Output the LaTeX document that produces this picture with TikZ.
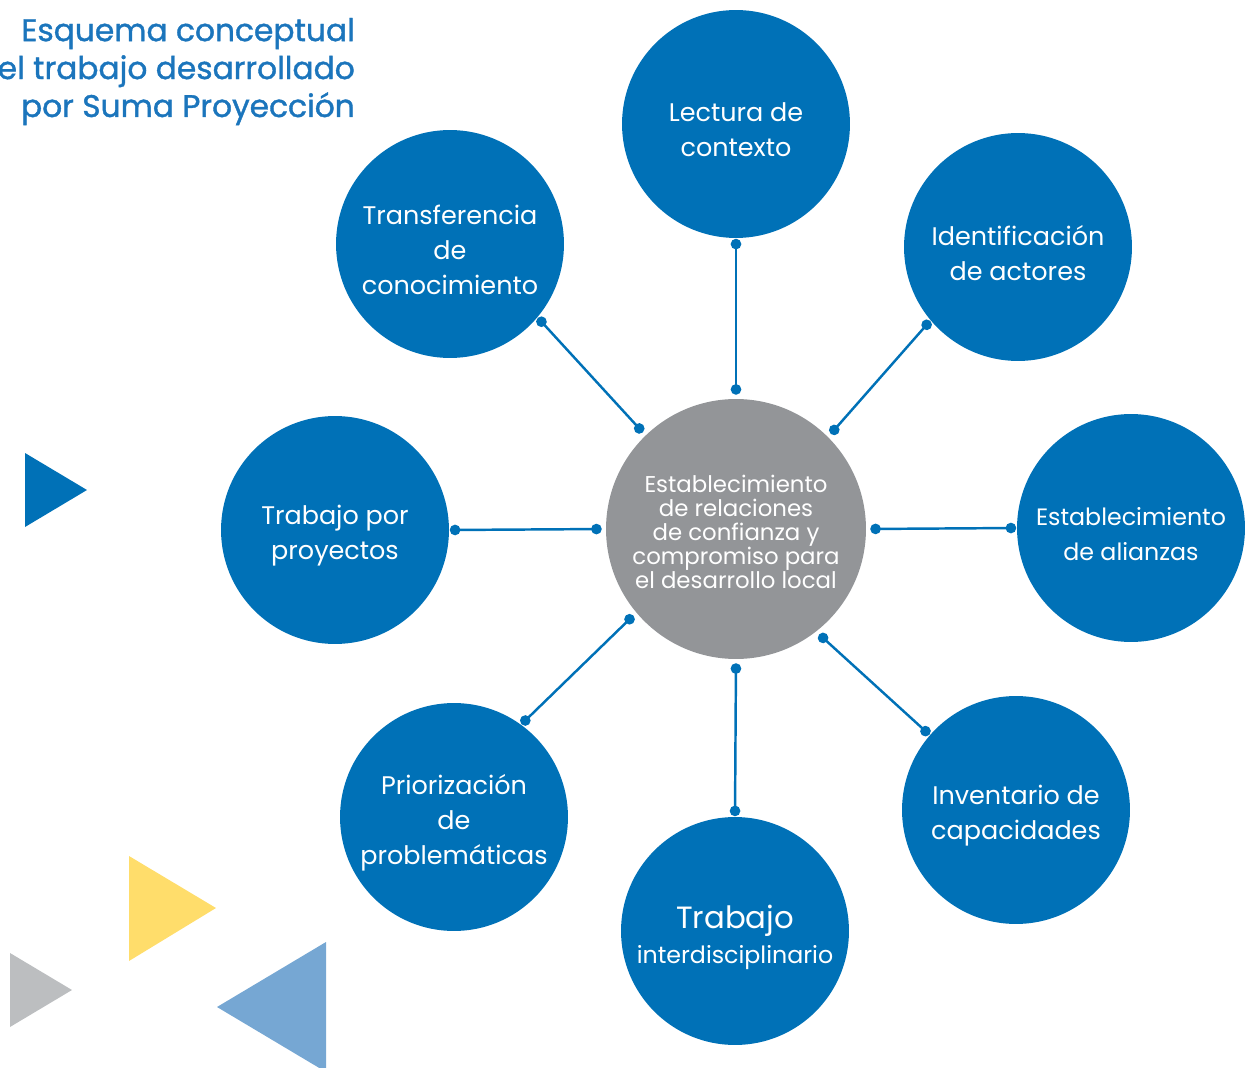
\documentclass[tikz,border=0pt]{standalone}
\usepackage{fontspec}
\setmainfont{Poppins}
\newfontfamily\titlefont[FakeBold=1.2]{Poppins}
\usetikzlibrary{arrows.meta}
\definecolor{cblue}{HTML}{0071B7}
\definecolor{cgray}{HTML}{939598}
\definecolor{tblue}{HTML}{1B75BC}
\definecolor{cyellow}{HTML}{FFDD6B}
\definecolor{clight}{HTML}{76A7D3}
\definecolor{cltgray}{HTML}{BCBEC0}

\begin{document}
\begin{tikzpicture}[x=0.02cm, y=-0.02cm,
    bubble/.style={circle, fill=cblue, minimum size=4.56cm, inner sep=0pt},
    hub/.style={circle, fill=cgray, minimum size=5.2cm, inner sep=0pt},
    lbl/.style={text=white, align=center, inner sep=0pt, yshift=-0.12cm, font=\fontsize{14.5}{20}\selectfont},
    hublbl/.style={lbl, yshift=0.06cm, font=\fontsize{13}{13.7}\selectfont},
    link/.style={cblue, line width=1.4pt, {Circle[length=0.21cm]}-{Circle[length=0.21cm]}, shorten <=0.08cm, shorten >=0.01cm}]
        \useasboundingbox (0, 0) rectangle (1245, 1068);

        \fill[cblue] (25, 453) -- (25, 527) -- (87, 490) -- cycle;
        \fill[cyellow] (129, 856) -- (129, 961) -- (216, 908) -- cycle;
        \fill[cltgray] (10, 953) -- (10, 1027) -- (72, 990) -- cycle;
        \fill[clight] (326, 942) -- (326, 1072) -- (217, 1007) -- cycle;

        \node[anchor=base east, align=right, text=tblue, font=\titlefont\fontsize{17.8}{21.6}\selectfont] (title) at (361, 117) {Esquema conceptual\\el trabajo desarrollado\\por Suma Proyección};

        \node[hub] (ctr) at (736, 529) {};
        \node[bubble] (lect) at (736, 124) {};
        \node[bubble] (ident) at (1018, 247) {};
        \node[bubble] (alian) at (1131, 528) {};
        \node[bubble] (inven) at (1016, 810) {};
        \node[bubble] (inter) at (735, 931) {};
        \node[bubble] (prior) at (454, 817) {};
        \node[bubble] (proy) at (335, 530) {};
        \node[bubble] (transf) at (450, 244) {};

        \node[hublbl] (ctr-t) at (ctr) {Establecimiento\\de relaciones\\de confianza y\\compromiso para\\el desarrollo local};
        \node[lbl] (lect-t) at (lect) {Lectura de\\contexto};
        \node[lbl] (ident-t) at (ident) {Identificación\\de actores};
        \node[lbl, font=\fontsize{13.5}{20}\selectfont] (alian-t) at (alian) {Establecimiento\\de alianzas};
        \node[lbl] (inven-t) at (inven) {Inventario de\\capacidades};
        \node[lbl] (inter-t) at (inter) {\fontsize{17.5}{19.4}\selectfont Trabajo\\\fontsize{13.5}{19.4}\selectfont interdisciplinario};
        \node[lbl] (prior-t) at (prior) {Priorización\\de\\problemáticas};
        \node[lbl] (proy-t) at (proy) {Trabajo por\\proyectos};
        \node[lbl] (transf-t) at (transf) {Transferencia\\de\\conocimiento};

        \foreach \n/\a/\b in {lect/90/270, ident/45/220, alian/0/180, inven/308/139, inter/270/90, prior/220/54, proy/180/0, transf/134/320}
            \draw[link] (ctr.\a) -- (\n.\b);
    \end{tikzpicture}
\end{document}
